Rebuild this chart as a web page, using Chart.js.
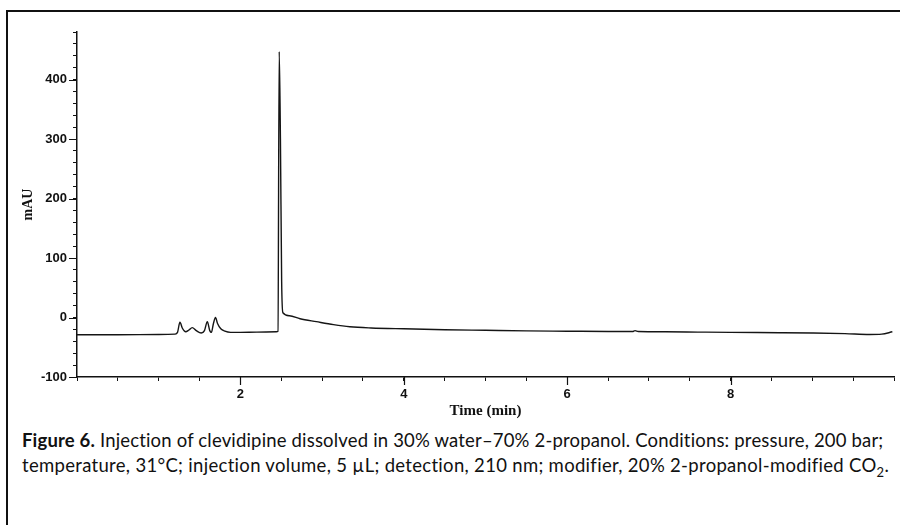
<!DOCTYPE html>
<html>
<head>
<meta charset="utf-8">
<script src="https://cdn.jsdelivr.net/npm/chart.js@4"></script>
<style>
  body { margin: 0; background: #fff; }
  #wrap { position: relative; width: 900px; height: 525px; overflow: hidden; }
  #frame { position: absolute; left: 6px; top: 10px; width: 920px; height: 540px;
           border-top: 2px solid #111; border-left: 2px solid #111; }
  #chartbox { position: absolute; left: 0; top: 0; width: 900px; height: 420px; }
  #caption { position: absolute; left: 22px; top: 428px; width: 880px; white-space: nowrap;
             font-family: Lato, "Open Sans", sans-serif; font-size: 18.5px; line-height: 25px; color: #111; }
  #caption b { font-weight: bold; }
</style>
</head>
<body>
<div id="wrap">
  <div id="frame"></div>
  <div id="chartbox"><canvas id="chromatogram" width="900" height="420"></canvas></div>
  <div id="caption"><span class="ln"><b>Figure 6.</b> Injection of clevidipine dissolved in 30% water&ndash;70% 2-propanol. Conditions: pressure, 200 bar;</span><br><span class="ln">temperature, 31&deg;C; injection volume, 5 &micro;L; detection, 210 nm; modifier, 20% 2-propanol-modified CO<sub style="font-size:13px;line-height:0">2</sub>.</span></div>
</div>
<script>
// Retention time (min) and detector signal (mAU)
const times = [0, 0.5, 1.0, 1.2, 1.23, 1.26, 1.29, 1.33, 1.37, 1.41, 1.46, 1.52, 1.56, 1.595,
  1.625, 1.645, 1.67, 1.695, 1.72, 1.76, 1.81, 1.88, 2.0, 2.2, 2.44, 2.46, 2.475, 2.49, 2.505,
  2.52, 2.6, 2.73, 2.93, 3.14, 3.34, 3.6, 4.0, 4.5, 5.0, 5.5, 6.0, 6.5, 6.8, 6.83, 6.87, 7.2,
  7.6, 8.0, 8.6, 9.0, 9.4, 9.7, 9.85, 9.98];
const signal = [-29, -29, -28.5, -28, -25, -8, -18, -24, -21, -17, -22, -26, -22, -7,
  -22, -25, -10, 0, -10, -19, -23, -25, -25, -24.5, -24, -23, 447, 300, 60,
  8, 3, -2, -7, -12, -15.5, -17.5, -19, -20.5, -21.5, -22.5, -23, -23.5, -23.5, -22, -23.5, -24,
  -24.5, -25, -25.5, -26, -27, -28.5, -28, -24];

// Axis ranges and labelled ticks
const xRange = [0, 10];
const yRange = [-100, 480];
const xLabels = [2, 4, 6, 8];
const yLabels = [-100, 0, 100, 200, 300, 400];

const points = times.map((t, i) => ({ x: t, y: signal[i] }));

// Make labelled ticks longer than the minor ones
const majorTicks = {
  id: 'majorTicks',
  afterDraw(chart) {
    const ctx = chart.ctx;
    const xs = chart.scales.x, ys = chart.scales.y;
    ctx.save();
    ctx.strokeStyle = '#111';
    ctx.lineWidth = 1.2;
    ctx.beginPath();
    xLabels.forEach(v => {
      const px = Math.round(xs.getPixelForValue(v)) + 0.5;
      ctx.moveTo(px, ys.bottom);
      ctx.lineTo(px, ys.bottom + 8);
    });
    yLabels.forEach(v => {
      const py = Math.round(ys.getPixelForValue(v)) + 0.5;
      ctx.moveTo(xs.left, py);
      ctx.lineTo(xs.left - 8, py);
    });
    ctx.stroke();
    ctx.restore();
  }
};

new Chart(document.getElementById('chromatogram'), {
  type: 'line',
  data: {
    datasets: [{
      data: points,
      borderColor: '#151515',
      borderWidth: 1.4,
      pointRadius: 0,
      fill: false,
      cubicInterpolationMode: 'monotone'
    }]
  },
  plugins: [majorTicks],
  options: {
    responsive: false,
    animation: false,
    events: [],
    layout: { padding: { left: 14, right: 5, top: 32, bottom: 0 } },
    plugins: { legend: { display: false }, tooltip: { enabled: false } },
    scales: {
      x: {
        type: 'linear',
        min: xRange[0],
        max: xRange[1],
        afterFit: scale => { scale.height = 43; },
        border: { display: true, color: '#111', width: 1.5 },
        grid: { drawOnChartArea: false, drawTicks: true, tickLength: 4, color: '#111', tickWidth: 1 },
        ticks: {
          stepSize: 0.5,
          autoSkip: false,
          maxRotation: 0,
          padding: 6,
          color: '#111',
          font: { family: 'Liberation Sans, Arial, sans-serif', size: 13, weight: 'bold' },
          callback: v => xLabels.includes(v) ? String(v) : ''
        },
        title: {
          display: true,
          text: 'Time (min)',
          color: '#111',
          padding: { top: 0, bottom: 0 },
          font: { family: 'Liberation Serif, Times New Roman, serif', size: 15, weight: 'bold' }
        }
      },
      y: {
        min: yRange[0],
        max: yRange[1],
        afterFit: scale => { scale.width = 63; },
        border: { display: true, color: '#111', width: 1.5 },
        grid: { drawOnChartArea: false, drawTicks: true, tickLength: 4, color: '#111', tickWidth: 1 },
        ticks: {
          stepSize: 20,
          autoSkip: false,
          padding: 6,
          color: '#111',
          font: { family: 'Liberation Sans, Arial, sans-serif', size: 13, weight: 'bold' },
          callback: v => yLabels.includes(v) ? String(v) : ''
        },
        title: {
          display: true,
          text: 'mAU',
          color: '#111',
          padding: { top: 6, bottom: 0 },
          font: { family: 'Liberation Serif, Times New Roman, serif', size: 14, weight: 'bold' }
        }
      }
    }
  }
});

// Stretch the caption lines to the width they have in print
document.querySelectorAll('#caption .ln').forEach((el, i) => {
  const target = i === 0 ? 862 : 867;
  const w = el.getBoundingClientRect().width;
  const n = el.textContent.length;
  el.style.letterSpacing = ((target - w) / n).toFixed(3) + 'px';
});
</script>
</body>
</html>
